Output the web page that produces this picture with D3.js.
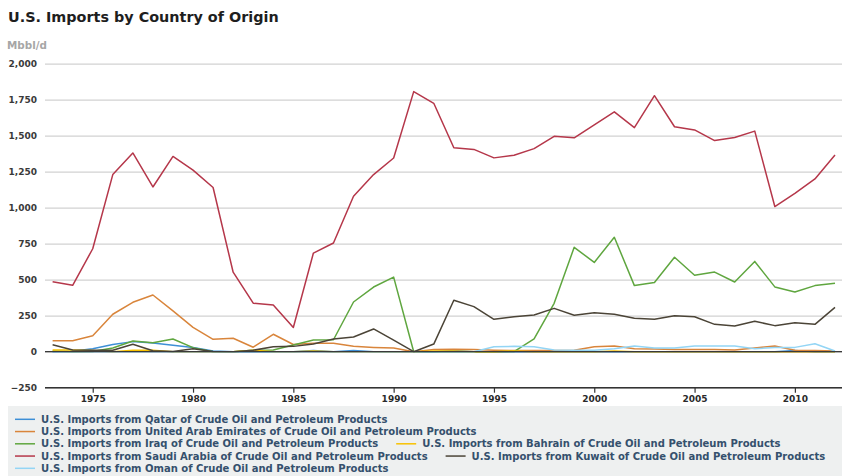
<!DOCTYPE html>
<html>
<head>
<meta charset="utf-8">
<script src="https://cdn.jsdelivr.net/npm/d3@7"></script>
<style>
  html, body { margin: 0; padding: 0; background: #fff; }
  svg { display: block; font-family: "DejaVu Sans", Verdana, sans-serif; }
</style>
</head>
<body>
<svg id="chart" width="842" height="476"></svg>
<script>
const years = d3.range(1973, 2013);
const yTicks = [-250, 0, 250, 500, 750, 1000, 1250, 1500, 1750, 2000];
const xTicks = [1975, 1980, 1985, 1990, 1995, 2000, 2005, 2010];

const qatar   = [0,3,20,50,70,60,45,30,5,0,0,0,0,8,0,8,0,0,0,0,8,0,0,0,0,0,0,0,0,0,0,0,0,0,0,0,0,8,0,0];
const uae     = [76,76,111,260,343,394,283,169,86,93,31,121,50,58,58,38,30,25,0,15,17,15,10,8,8,8,10,35,40,20,18,15,15,15,12,25,40,10,8,5];
const iraq    = [4,0,2,26,74,62,88,28,0,0,10,12,46,81,83,345,449,518,0,0,0,0,0,1,89,336,725,620,795,459,481,656,531,553,484,627,450,415,459,476];
const bahrain = [12,12,8,0,10,10,0,0,0,0,10,0,0,5,0,0,0,0,0,5,5,0,0,5,0,0,0,0,5,0,0,0,0,0,0,0,0,0,0,0];
const saudi   = [486,461,715,1230,1380,1144,1356,1261,1140,552,337,325,168,685,755,1080,1230,1345,1806,1725,1416,1405,1346,1364,1410,1496,1485,1575,1666,1556,1778,1562,1540,1466,1487,1532,1008,1100,1200,1366];
const kuwait  = [48,12,10,10,52,6,2,20,2,0,10,35,37,53,88,102,158,81,0,53,357,313,225,243,255,301,253,271,260,232,225,250,243,190,178,211,181,201,190,308];
const oman    = [0,0,0,0,0,0,0,0,0,0,0,0,0,0,0,0,0,0,0,0,0,0,35,37,35,12,10,10,20,40,25,25,40,40,40,20,30,30,55,5];

const seriesNames = [
  "U.S. Imports from Qatar of Crude Oil and Petroleum Products",
  "U.S. Imports from United Arab Emirates of Crude Oil and Petroleum Products",
  "U.S. Imports from Iraq of Crude Oil and Petroleum Products",
  "U.S. Imports from Bahrain of Crude Oil and Petroleum Products",
  "U.S. Imports from Saudi Arabia of Crude Oil and Petroleum Products",
  "U.S. Imports from Kuwait of Crude Oil and Petroleum Products",
  "U.S. Imports from Oman of Crude Oil and Petroleum Products"
];
const seriesValues = [qatar, uae, iraq, bahrain, saudi, kuwait, oman];
const seriesColors = ["#3d8fd6", "#d9853b", "#5fa63f", "#f7c100", "#b5374a", "#4b4437", "#93d5f5"];

const FONT = "DejaVu Sans, Verdana, sans-serif";
const svg = d3.select("#chart");
const W = 842;

// scale a text's font size so it spans a target width
function fitWidth(sel, base, target) {
  sel.attr("font-size", base);
  const w = sel.node().getComputedTextLength();
  const fs = base * target / w;
  sel.attr("font-size", fs);
  return fs;
}

const x = d3.scaleLinear().domain([1973, 2012]).range([52.6, 835]);
const y = d3.scaleLinear().domain([-250, 2000]).range([387.7, 63.7]);

// Title & units
const title = svg.append("text").attr("x", 8).attr("y", 22)
  .attr("font-weight", "bold").attr("fill", "#1e1e1e").attr("font-family", FONT)
  .text("U.S. Imports by Country of Origin");
fitWidth(title, 13, 271);
const units = svg.append("text").attr("x", 7).attr("y", 48.5)
  .attr("font-weight", "bold").attr("fill", "#a6a6a6").attr("font-family", FONT)
  .text("Mbbl/d");
fitWidth(units, 10, 40);

// Y axis with gridlines
const yAxis = svg.append("g").attr("transform", "translate(45,0)")
  .call(d3.axisLeft(y).tickValues(yTicks).tickSize(-(W - 45)).tickPadding(8)
    .tickFormat(d3.format(",")));
yAxis.select(".domain").remove();
yAxis.selectAll(".tick line").attr("stroke", "#d2d2d2").attr("stroke-width", 1.2);
yAxis.selectAll(".tick text").attr("font-size", 9).attr("font-weight", "bold")
  .attr("fill", "#3a3a3a").attr("font-family", FONT);

// X axis
const xAxis = svg.append("g").attr("transform", `translate(0,${y(-250)})`)
  .call(d3.axisBottom(x).tickValues(xTicks).tickSize(5).tickPadding(3).tickFormat(d3.format("d")));
xAxis.select(".domain").remove();
xAxis.selectAll(".tick line").attr("stroke", "#333").attr("stroke-width", 1.2);
xAxis.selectAll(".tick text").attr("font-size", 9).attr("font-weight", "bold")
  .attr("fill", "#2a2a2a").attr("font-family", FONT);
svg.append("line").attr("x1", 45).attr("x2", W)
  .attr("y1", y(-250)).attr("y2", y(-250))
  .attr("stroke", "#333").attr("stroke-width", 1.5);

// Lines
const line = d3.line().x((d, i) => x(years[i])).y(d => y(d));
seriesValues.forEach((vals, k) => {
  svg.append("path").datum(vals)
    .attr("d", line)
    .attr("fill", "none")
    .attr("stroke", seriesColors[k])
    .attr("stroke-width", 1.5)
    .attr("stroke-linejoin", "round");
});

// zero line
svg.append("line").attr("x1", 45).attr("x2", W)
  .attr("y1", y(0)).attr("y2", y(0))
  .attr("stroke", "#3a3a3a").attr("stroke-width", 1.2);

// Legend
svg.append("rect").attr("x", 8).attr("y", 406).attr("width", W - 8).attr("height", 70)
  .attr("fill", "#eef0f0");
const leg = svg.append("g");
// font size chosen so that the first legend label spans the same width as in the reference
const probe = leg.append("text").attr("font-weight", "bold").attr("font-family", FONT).text(seriesNames[0]);
const legFs = fitWidth(probe, 10, 347);
probe.remove();
const rowY0 = 419.3, rowH = 12.25;
let cx = 15, row = 0;
seriesNames.forEach((name, k) => {
  const g = leg.append("g");
  const t = g.append("text").attr("font-size", legFs).attr("font-weight", "bold")
    .attr("font-family", FONT)
    .attr("fill", "#35506d").attr("dy", "0.35em").text(name);
  const tw = t.node().getComputedTextLength();
  const itemW = 20 + 6 + tw;
  if (cx > 15 && cx + itemW > 832) { row++; cx = 15; }
  const ry = rowY0 + row * rowH;
  g.append("line").attr("x1", cx).attr("x2", cx + 20).attr("y1", ry).attr("y2", ry)
    .attr("stroke", seriesColors[k]).attr("stroke-width", 1.5);
  t.attr("x", cx + 26).attr("y", ry);
  cx += itemW + 18;
});
</script>
</body>
</html>
